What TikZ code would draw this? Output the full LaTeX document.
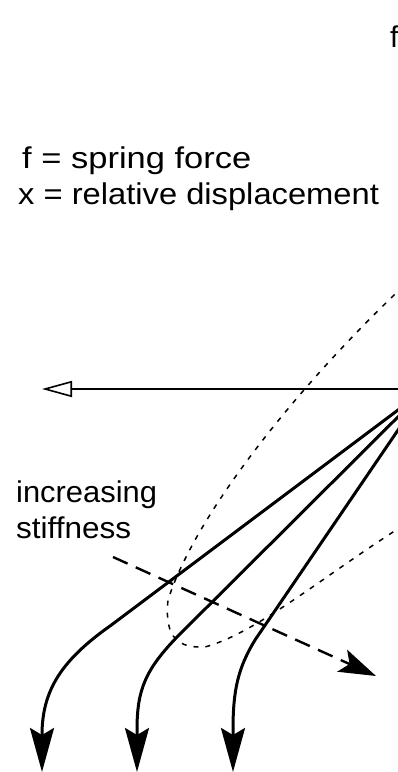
\documentclass[tikz,border=0pt]{standalone}
\usepackage{fontspec}
\setmainfont{Liberation Sans}
\usetikzlibrary{arrows.meta}
\begin{document}
\begin{tikzpicture}[x=1pt,y=-1pt,
  lbl/.style={inner sep=0pt,anchor=base west,font=\fontsize{30}{35}\selectfont},
  curve/.style={line width=3pt,-{Stealth[length=44pt,width=24pt,inset=7pt]}},
  axisline/.style={line width=2pt,-{Triangle[open,length=30pt,width=16pt,line width=1.6pt]}},
  hyst/.style={line width=1.5pt,dash pattern=on 5pt off 7pt},
  trend/.style={line width=2.4pt,dash pattern=on 16pt off 9pt,-{Stealth[length=37pt,width=24pt,inset=8pt]}}]
\useasboundingbox (0,0) rectangle (398,772);
\clip (0,0) rectangle (398,772);
\coordinate (O) at (426,389);
\coordinate (axend) at (42,389);
\node[lbl] (fy) at (390,47) {f};
\node[lbl] (leg1) at (22,168) {\scalebox{1.15}[1]{f = spring force}};
\node[lbl] (leg2) at (18,204) {\scalebox{1.09}[1]{x = relative displacement}};
\node[lbl] (inc) at (16,502) {\scalebox{1.03}[1]{increasing}};
\node[lbl] (stf) at (16,538) {\scalebox{1.05}[1]{stiffness}};
\draw[axisline] (O) -- (axend);
\draw[hyst] (430,262) .. controls (330,350) and (200,500) .. (168,600)
  .. controls (164,640) and (180,648) .. (205,647)
  .. controls (260,632) and (330,570) .. (420,515);
\coordinate (c1) at (42,772);
\coordinate (c2) at (137,772);
\coordinate (c3) at (233,772);
\draw[curve] (O) -- (110,626) .. controls (62,660) and (42,690) .. (42,735) -- (c1);
\draw[curve] (O) -- (178,636) .. controls (145,670) and (137,690) .. (137,730) -- (c2);
\draw[curve] (O) -- (255,640) .. controls (238,668) and (233,690) .. (233,730) -- (c3);
\coordinate (t1) at (113,557);
\coordinate (t2) at (376,676);
\draw[trend] (t1) -- (t2);
\end{tikzpicture}
\end{document}
